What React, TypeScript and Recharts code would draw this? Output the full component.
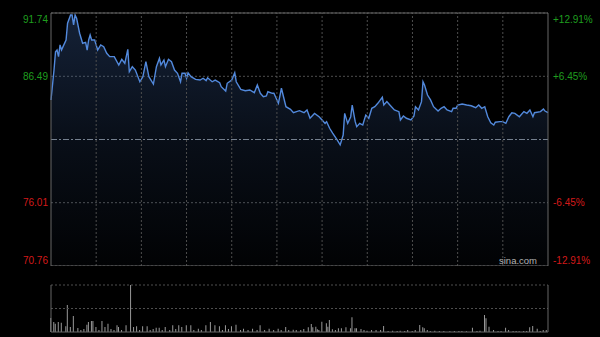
import React from "react";
import {
  ComposedChart,
  Area,
  Bar,
  XAxis,
  YAxis,
  CartesianGrid,
  ReferenceLine,
} from "recharts";

// intraday minutes (0 = open, 330 = close) and last price
const minutes = [
  0, 2, 3, 4, 5, 6, 7, 8, 10, 11, 13, 14, 15, 16, 17, 19, 21, 23, 24, 25, 26, 27, 29, 31, 33, 35, 37, 39, 42, 45,
  47, 49, 51, 52, 54, 56, 59, 61, 63, 65, 68, 70, 72, 73, 75, 76, 78, 80, 82, 84, 86, 87, 89, 90, 91, 93, 96, 99,
  101, 103, 104, 107, 109, 112, 113, 116, 117, 120, 122, 123, 126, 129, 132, 135, 137, 139, 141, 143, 144, 147,
  148, 151, 153, 156, 159, 161, 163, 165, 168, 170, 172, 174, 175, 178, 180, 182, 183, 185, 187, 190, 192, 194,
  195, 197, 199, 200, 202, 203, 205, 207, 209, 211, 213, 215, 217, 220, 221, 223, 225, 228, 231, 232, 234, 236,
  239, 241, 242, 244, 246, 247, 248, 250, 252, 254, 257, 259, 261, 263, 266, 267, 269, 270, 273, 276, 279, 282,
  284, 286, 288, 290, 292, 294, 295, 298, 300, 302, 304, 306, 308, 311, 314, 316, 318, 320, 321, 325, 327, 328, 330,
];
const prices = [
  84.53, 87.01, 88.53, 88.67, 88.12, 89.09, 88.67, 88.95, 89.5, 90.89, 91.57, 91.57, 90.75, 91.57, 91.3, 90.06,
  89.23, 89.31, 88.67, 89.5, 89.92, 89.5, 89.5, 88.67, 89.09, 88.95, 88.4, 88.12, 88.12, 87.43,
  87.9, 87.57, 88.73, 86.87, 87.29, 87.01, 86.04, 86.46, 87.7, 86.46, 85.85, 87.29, 87.98, 87.43, 87.84, 87.29,
  87.9, 87.7, 87.01, 86.74, 86.04, 86.74, 86.74, 86.33, 86.79, 86.46, 86.24, 86.18,
  86.33, 86.13, 86.37, 86.04, 86.18, 85.96, 85.63, 85.27, 85.91, 86.18, 86.79, 86.04, 85.41, 85.3, 85.36, 85.13,
  85.77, 85.08, 84.8, 84.86, 85.21, 85.08,
  85.08, 84.25, 85.5, 83.97, 83.75, 83.47, 83.56, 83.64, 83.47, 83.7, 83.01, 83.28, 83.42, 83.14, 82.87, 82.59,
  82.73, 82.18, 81.77, 81.21, 80.8, 81.62,
  83.42, 82.59, 83.14, 84.11, 82.73, 82.31, 82.59, 82.45, 83.28, 83.01, 83.84, 83.97, 84.25, 84.75, 84.11, 84.39,
  84.11, 83.7, 83.56, 82.87, 83.2, 83.01,
  82.87, 83.2, 83.97, 83.7, 84.39, 86.04, 85.77, 84.94, 84.53, 83.97, 83.61, 83.84, 83.97, 83.7, 83.56, 83.84,
  83.84, 84.11, 84.19, 84.11, 84.05, 83.89,
  84.11, 83.84, 83.97, 83.14, 82.64, 82.45, 82.68, 82.73, 82.73, 82.59, 83.14, 83.47, 83.42, 83.14, 83.56, 83.42,
  83.7, 83.14, 83.47, 83.56, 83.78, 83.61, 83.47,
];

// volume bars (minute, relative volume)
const volMinutes = [
  0, 2, 3, 5, 7, 10, 11, 13, 15, 18, 20, 22, 24, 25, 27, 28, 30, 32, 34, 36, 38, 40, 42, 44, 45, 47, 50, 53, 55, 57,
  59, 61, 64, 66, 68, 70, 72, 74, 76, 79, 81, 83, 85, 87, 90, 93, 95, 98, 100, 103, 106, 109, 112, 114, 116, 118,
  120, 123, 126, 128, 131, 134, 137, 139, 142, 145, 148, 151, 153, 156, 158, 161, 163, 166, 168, 171, 173, 174,
  176, 177, 178, 180, 183, 184, 185, 187, 189, 191, 193, 196, 199, 200, 202, 203, 206, 208, 210, 213, 216, 219,
  221, 224, 227, 230, 232, 235, 237, 240, 242, 245, 247, 248, 250, 252, 255, 258, 261, 265, 268, 271, 273, 276,
  280, 283, 285, 288, 289, 291, 294, 297, 299, 302, 304, 307, 309, 311, 314, 316, 318, 320, 323, 325, 327, 329,
];
const volumes = [
  140, 100, 83, 100, 93, 57, 270, 50, 160, 40, 20, 30, 73, 100, 110, 110, 50, 20, 110, 50, 83, 30, 20, 67, 50, 20,
  67, 470, 50, 57,
  20, 57, 57, 20, 30, 43, 43, 20, 50, 20, 67, 30, 67, 50, 67, 67, 20, 33, 20, 67, 100, 67, 57, 20, 67, 30,
  57, 73, 20, 33, 20, 33, 20, 67, 20, 33, 20, 33, 20, 50, 20, 23, 20, 20, 30, 47, 80, 47,
  53, 27, 20, 103, 87, 53, 120, 27, 20, 37, 37, 47, 37, 147, 37, 37, 30, 20, 13, 20, 20, 20,
  60, 10, 13, 10, 13, 10, 20, 10, 20, 70, 47, 37, 20, 10, 13, 10, 10, 7, 10, 10, 10, 7,
  43, 10, 13, 170, 137, 53, 20, 10, 10, 43, 20, 10, 10, 7, 10, 10, 47, 60, 33, 10, 20, 20,
];

const prevClose = 81.25;
const priceTicks = [70.76, 76.01, 86.49, 91.74];
const pctTicks = [-12.91, -6.45, 6.45, 12.91];
const timeTicks = [30, 60, 90, 120, 150, 180, 210, 240, 270, 300];

const priceData = minutes.map((m, i) => ({ minute: m, price: prices[i] }));
const volData = volMinutes.map((m, i) => ({ minute: m, vol: volumes[i] }));

const GREEN = "#1f9e1f";
const RED = "#d41a1a";
const FONT = "'Liberation Sans', Arial, sans-serif";
const BORDER = "#666";
const GRID = "#4e4e4e";

const edgeShift = (v: number, lo: number, hi: number) => (v === hi ? 6 : v === lo ? -6 : 0);

const LeftTick = (props: any) => {
  const { x, y, payload } = props;
  const v = payload.value as number;
  return (
    <text
      x={x}
      y={y + edgeShift(v, 70.76, 91.74)}
      textAnchor="end"
      dominantBaseline="central"
      fill={v > prevClose ? GREEN : RED}
      fontSize={10}
      fontFamily={FONT}
    >
      {v.toFixed(2)}
    </text>
  );
};

const RightTick = (props: any) => {
  const { x, y, payload } = props;
  const v = payload.value as number;
  return (
    <text
      x={x}
      y={y + edgeShift(v, -12.91, 12.91)}
      textAnchor="start"
      dominantBaseline="central"
      fill={v > 0 ? GREEN : RED}
      fontSize={10}
      fontFamily={FONT}
    >
      {(v > 0 ? "+" : "") + v.toFixed(2) + "%"}
    </text>
  );
};

export default function App() {
  return (
    <div style={{ position: "fixed", left: 0, top: 0, width: 600, height: 337, background: "#000" }}>
      <ComposedChart width={600} height={266} data={priceData} margin={{ top: 13, right: 0, bottom: 0, left: 0 }}>
        <defs>
          <linearGradient id="fillGrad" x1="0" y1="0" x2="0" y2="1">
            <stop offset="0%" stopColor="#3d64a6" stopOpacity={0.55} />
            <stop offset="50%" stopColor="#3d64a6" stopOpacity={0.24} />
            <stop offset="100%" stopColor="#3d64a6" stopOpacity={0.04} />
          </linearGradient>
        </defs>
        <CartesianGrid stroke={GRID} strokeDasharray="2 2" vertical={false} />
        <XAxis
          dataKey="minute"
          type="number"
          domain={[0, 330]}
          height={0}
          tick={false}
          axisLine={false}
          tickLine={false}
        />
        <YAxis
          domain={[70.76, 91.74]}
          ticks={priceTicks}
          interval={0}
          width={51}
          tickSize={0}
          tickMargin={3}
          axisLine={false}
          tickLine={false}
          tick={<LeftTick />}
          allowDataOverflow
        />
        <YAxis
          yAxisId="pct"
          orientation="right"
          domain={[-12.91, 12.91]}
          ticks={pctTicks}
          interval={0}
          width={52}
          tickSize={0}
          tickMargin={5}
          axisLine={false}
          tickLine={false}
          tick={<RightTick />}
          allowDataOverflow
        />
        {timeTicks.map((t) => (
          <ReferenceLine key={t} x={t} stroke={GRID} strokeDasharray="2 2" />
        ))}
        <Area
          type="linear"
          dataKey="price"
          stroke="#5289dc"
          strokeWidth={1.4}
          fill="url(#fillGrad)"
          isAnimationActive={false}
          dot={false}
          activeDot={false}
        />
        <ReferenceLine y={prevClose} stroke="#75808f" strokeDasharray="6 2 2 2" />
        <ReferenceLine y={91.74} stroke={BORDER} />
        <ReferenceLine y={70.76} stroke={BORDER} />
        <ReferenceLine x={0} stroke={BORDER} />
        <ReferenceLine x={330} stroke={BORDER} />
      </ComposedChart>
      <div
        style={{
          position: "absolute",
          left: 499,
          top: 255,
          fontFamily: FONT,
          fontSize: 9.5,
          color: "#b4b4b4",
          lineHeight: "12px",
        }}
      >
        sina.com
      </div>
      <div style={{ position: "absolute", left: 0, top: 275 }}>
        <ComposedChart width={600} height={58} data={volData} margin={{ top: 10, right: 52, bottom: 1, left: 51 }}>
          <XAxis dataKey="minute" type="number" domain={[0, 330]} hide />
          <YAxis domain={[0, 470]} hide allowDataOverflow />
          <ReferenceLine y={470} stroke={GRID} strokeDasharray="2 2" />
          <ReferenceLine y={235} stroke={GRID} strokeDasharray="2 2" />
          <Bar dataKey="vol" fill="#999999" barSize={1} isAnimationActive={false} />
          <ReferenceLine y={0} stroke={BORDER} />
          <ReferenceLine x={0} stroke={BORDER} />
          <ReferenceLine x={330} stroke={BORDER} />
        </ComposedChart>
      </div>
    </div>
  );
}
